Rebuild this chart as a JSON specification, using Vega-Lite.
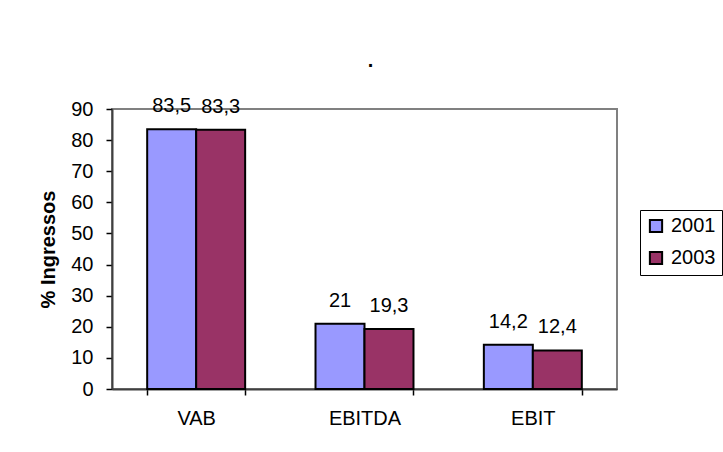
{
  "$schema": "https://vega.github.io/schema/vega-lite/v6.json",
  "autosize": "none",
  "width": 505,
  "height": 280,
  "padding": {"left": 112, "top": 109, "right": 106, "bottom": 63},
  "background": "white",
  "config": {
    "font": "Liberation Sans",
    "view": {"stroke": "#808080", "strokeWidth": 2},
    "axis": {
      "labelFont": "Liberation Sans",
      "labelFontSize": 20,
      "labelColor": "black",
      "grid": false,
      "domainColor": "#404040",
      "domainWidth": 2,
      "tickColor": "black",
      "tickWidth": 1.5,
      "tickSize": 6
    }
  },
  "title": {
    "text": ".",
    "fontSize": 20,
    "fontWeight": "bold",
    "color": "black",
    "font": "Liberation Sans",
    "anchor": "middle",
    "dx": 6,
    "offset": 25
  },
  "data": {
    "values": [
      {"cat": "VAB", "year": "2001", "v": 83.5, "lab": "83,5"},
      {"cat": "VAB", "year": "2003", "v": 83.3, "lab": "83,3"},
      {"cat": "EBITDA", "year": "2001", "v": 21, "lab": "21"},
      {"cat": "EBITDA", "year": "2003", "v": 19.3, "lab": "19,3"},
      {"cat": "EBIT", "year": "2001", "v": 14.2, "lab": "14,2"},
      {"cat": "EBIT", "year": "2003", "v": 12.4, "lab": "12,4"}
    ]
  },
  "encoding": {
    "x": {
      "field": "cat",
      "type": "nominal",
      "sort": ["VAB", "EBITDA", "EBIT"],
      "scale": {"paddingInner": 0.418, "paddingOuter": 0.209},
      "axis": {"title": null, "labelAngle": 0, "tickBand": "extent", "labelPadding": 13}
    },
    "xOffset": {
      "field": "year",
      "type": "nominal",
      "scale": {"paddingInner": 0, "paddingOuter": 0}
    },
    "y": {
      "field": "v",
      "type": "quantitative",
      "scale": {"domain": [0, 90], "nice": false},
      "axis": {
        "title": "% Ingressos",
        "values": [0, 10, 20, 30, 40, 50, 60, 70, 80, 90],
        "titleFont": "Liberation Sans",
        "titleFontSize": 20,
        "titleFontWeight": "bold",
        "titleColor": "black",
        "labelPadding": 13,
        "titlePadding": 12
      }
    }
  },
  "layer": [
    {
      "mark": {"type": "bar", "stroke": "black", "strokeWidth": 2},
      "encoding": {
        "color": {
          "field": "year",
          "type": "nominal",
          "scale": {"domain": ["2001", "2003"], "range": ["#9999FF", "#993366"]},
          "legend": {
            "title": null,
            "orient": "none",
            "legendX": 528,
            "legendY": 101,
            "strokeColor": "black",
            "fillColor": "white",
            "padding": 6,
            "symbolType": "square",
            "symbolSize": 150,
            "symbolStrokeColor": "black",
            "symbolStrokeWidth": 2,
            "symbolOpacity": 1,
            "labelFont": "Liberation Sans",
            "labelFontSize": 20,
            "labelColor": "black",
            "labelOffset": 5,
            "rowPadding": 10
          }
        }
      }
    },
    {
      "mark": {"type": "text", "dy": -17, "baseline": "alphabetic", "fontSize": 20, "color": "black", "font": "Liberation Sans"},
      "encoding": {
        "text": {"field": "lab", "type": "nominal"}
      }
    }
  ]
}
